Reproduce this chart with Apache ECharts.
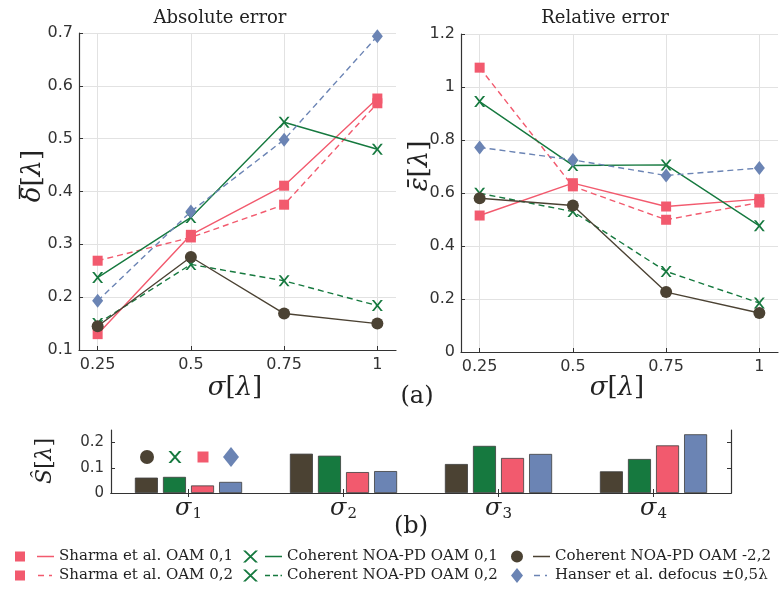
<!DOCTYPE html>
<html><head><meta charset="utf-8">
<script src="https://cdn.jsdelivr.net/npm/echarts@6/dist/echarts.min.js"></script>
<style>html,body{margin:0;padding:0;background:#fff}#c{width:781px;height:591px}</style>
</head><body><div id="c"></div>
<script>
// ---------- data ----------
const sigma = [0.25, 0.5, 0.75, 1];
const xTicks = [0.25, 0.5, 0.75, 1];
const names = ['Sharma et al. OAM 0,1', 'Sharma et al. OAM 0,2', 'Coherent NOA-PD OAM 0,1',
               'Coherent NOA-PD OAM 0,2', 'Coherent NOA-PD OAM -2,2', 'Hanser et al. defocus \u00b10,5\u03bb'];
// Absolute error
const absSharma01 = [0.130, 0.318, 0.411, 0.576];
const absSharma02 = [0.269, 0.313, 0.375, 0.567];
const absCoh01    = [0.237, 0.351, 0.531, 0.480];
const absCoh02    = [0.150, 0.262, 0.231, 0.184];
const absCohM22   = [0.145, 0.276, 0.169, 0.150];
const absHanser   = [0.193, 0.362, 0.498, 0.694];
// Relative error
const relSharma01 = [0.515, 0.637, 0.549, 0.577];
const relSharma02 = [1.073, 0.625, 0.499, 0.564];
const relCoh01    = [0.945, 0.704, 0.706, 0.476];
const relCoh02    = [0.599, 0.530, 0.304, 0.185];
const relCohM22   = [0.580, 0.553, 0.226, 0.147];
const relHanser   = [0.772, 0.725, 0.666, 0.694];
// Bar chart (b)
const barCats = ['1', '2', '3', '4'];
const barNames = ['S -2,2', 'S 0,1', 'S Sharma', 'S Hanser'];
const barCohM22  = [0.061, 0.156, 0.115, 0.086];
const barCoh01   = [0.064, 0.148, 0.187, 0.135];
const barSharma  = [0.030, 0.083, 0.139, 0.189];
const barHanser  = [0.044, 0.087, 0.155, 0.233];
const barYTicks = [0, 0.1, 0.2];

// ---------- styles ----------
const PINK = '#f25a6e', GREEN = '#16793f', BROWN = '#4b4233', BLUE = '#6b84b4';
const XPATH = 'path://M0 0H2.4L12 12H9.6Z M9.6 0H12L2.4 12H0Z';
const SANS = 'DejaVu Sans', SERIF = 'DejaVu Serif';
const AX = '#333';
const lineDefs = [
  {abs: absSharma01, rel: relSharma01, color: PINK,  dash: false, symbol: 'rect', size: 10},
  {abs: absSharma02, rel: relSharma02, color: PINK,  dash: true,  symbol: 'rect', size: 10},
  {abs: absCoh01,    rel: relCoh01,    color: GREEN, dash: false, symbol: XPATH,  size: 11},
  {abs: absCoh02,    rel: relCoh02,    color: GREEN, dash: true,  symbol: XPATH,  size: 11},
  {abs: absCohM22,   rel: relCohM22,   color: BROWN, dash: false, symbol: 'circle', size: 12},
  {abs: absHanser,   rel: relHanser,   color: BLUE,  dash: true,  symbol: 'diamond', size: [11, 14]}
];

const series = [];
lineDefs.forEach((d, i) => {
  [['abs', 0], ['rel', 1]].forEach(([k, gi]) => {
    series.push({
      type: 'line', name: names[i], xAxisIndex: gi, yAxisIndex: gi,
      data: sigma.map((s, j) => [s, d[k][j]]),
      symbol: d.symbol, symbolSize: d.size, showSymbol: true,
      itemStyle: {color: d.color, borderWidth: 0},
      lineStyle: {color: d.color, width: 1.4, type: d.dash ? [6, 4] : 'solid'},
      emphasis: {disabled: true}, z: 2 + i
    });
  });
});
const barDefs = [[barCohM22, BROWN], [barCoh01, GREEN], [barSharma, PINK], [barHanser, BLUE]];
barDefs.forEach(([vals, color], i) => {
  series.push({
    type: 'bar', name: barNames[i], xAxisIndex: 2, yAxisIndex: 2,
    data: vals, barWidth: 23, barGap: '22%',
    itemStyle: {color: color, borderColor: '#3c3c3c', borderWidth: 0.8},
    emphasis: {disabled: true}
  });
});

function valX(gi) {
  return {
    type: 'value', gridIndex: gi, min: 0.2, max: 1.05,
    axisLine: {show: true, lineStyle: {color: AX, width: 1.2}},
    axisTick: {show: true, inside: true, length: 4, customValues: xTicks, lineStyle: {color: AX}},
    axisLabel: {customValues: xTicks, margin: 7, color: AX, fontFamily: SANS, fontSize: 16},
    splitLine: {show: true, lineStyle: {color: '#e2e2e2', width: 1}}
  };
}
function valY(gi, min, max, interval) {
  return {
    type: 'value', gridIndex: gi, min: min, max: max, interval: interval,
    axisLine: {show: true, lineStyle: {color: AX, width: 1.2}},
    axisTick: {show: true, inside: true, length: 4, lineStyle: {color: AX}},
    axisLabel: {margin: 6, color: AX, fontFamily: SANS, fontSize: 16},
    splitLine: {show: true, lineStyle: {color: '#e2e2e2', width: 1}}
  };
}

const subRich = {
  s: {fontFamily: SERIF, fontStyle: 'italic', fontSize: 24, color: '#222'},
  sub: {fontFamily: SERIF, fontSize: 15, color: '#222', padding: [12, 0, 0, 1]}
};

function lgIcon(p) { return 'path://M0 0M39 15' + p; }
const LINE = 'M22 6.8H39V8.2H22Z';
const icons = [
  lgIcon('M0 2.5H10V12.5H0Z' + LINE),
  lgIcon('M0 2.5H10V12.5H0ZM23 6.8H29V8.2H23ZM34 6.8H37V8.2H34Z'),
  lgIcon('M0 1.5H2.6L15 13.5H12.4ZM12.4 1.5H15L2.6 13.5H0Z' + LINE),
  lgIcon('M0 1.5H2.6L15 13.5H12.4ZM12.4 1.5H15L2.6 13.5H0ZM22 6.8H27V8.2H22ZM30 6.8H35V8.2H30ZM37.5 6.8H39V8.2H37.5Z'),
  lgIcon('M0 7.5A6 6 0 1 0 12 7.5A6 6 0 1 0 0 7.5Z' + LINE),
  lgIcon('M6 0L12 7.5L6 15L0 7.5ZM23 6.8H29V8.2H23ZM34 6.8H36V8.2H34Z')
];
const lgColors = [PINK, PINK, GREEN, GREEN, BROWN, BLUE];
function colLegend(left, idxs) {
  return {
    orient: 'vertical', left: left, top: 549, height: 40, padding: 0,
    itemWidth: 39, itemHeight: 15, itemGap: 4,
    symbolKeepAspect: false, selectedMode: false,
    textStyle: {fontFamily: SERIF, fontSize: 15, color: '#222', lineHeight: 15},
    data: idxs.map(i => ({name: names[i], icon: icons[i], itemStyle: {color: lgColors[i], borderWidth: 0}}))
  };
}
function bIcon(p) { return 'path://M0 0M16 20' + p; }
const barIcons = [
  bIcon('M1 10A7 7 0 1 0 15 10A7 7 0 1 0 1 10Z'),
  bIcon('M1.5 4H4.1L14.5 16H11.9ZM11.9 4H14.5L4.1 16H1.5Z'),
  bIcon('M2.5 4.5H13.5V15.5H2.5Z'),
  bIcon('M8 0L16 10L8 20L0 10Z')
];

function mathText(x, y, parts, size, rot) {
  return {
    type: 'text', x: x, y: y, rotation: rot || 0,
    style: {
      text: parts, textAlign: 'center', textVerticalAlign: 'middle',
      rich: {
        i: {fontFamily: SERIF, fontStyle: 'italic', fontSize: size, fill: '#222'},
        n: {fontFamily: SERIF, fontSize: size, fill: '#222'}
      }
    }
  };
}
function plainText(x, y, t, size) {
  return {type: 'text', x: x, y: y, style: {text: t, textAlign: 'center', textVerticalAlign: 'middle',
          fontFamily: SERIF, fontSize: size, fill: '#222'}};
}

const option = {
  animation: false,
  backgroundColor: '#fff',
  grid: [
    {left: 79, top: 33, width: 317, height: 317},
    {left: 461, top: 34, width: 317, height: 318},
    {left: 111, top: 430, width: 620, height: 63}
  ],
  xAxis: [
    valX(0), valX(1),
    {type: 'category', gridIndex: 2, data: barCats,
     axisLine: {show: true, lineStyle: {color: AX, width: 1.2}},
     axisTick: {show: true, inside: true, length: 4, alignWithLabel: true, lineStyle: {color: AX}},
     axisLabel: {margin: 2, formatter: v => '{s|\u03c3}{sub|' + v + '}', rich: subRich},
     splitLine: {show: false}},
    {type: 'category', gridIndex: 2, position: 'top', data: barCats,
     axisLine: {show: true, lineStyle: {color: AX, width: 1.2}},
     axisTick: {show: true, inside: true, length: 4, alignWithLabel: true, lineStyle: {color: AX}},
     axisLabel: {show: false}, splitLine: {show: false}}
  ],
  yAxis: [
    valY(0, 0.1, 0.7, 0.1),
    valY(1, 0, 1.2, 0.2),
    {type: 'value', gridIndex: 2, min: 0, max: 0.25,
     axisLine: {show: true, lineStyle: {color: AX, width: 1.2}},
     axisTick: {show: true, inside: true, length: 4, customValues: barYTicks, lineStyle: {color: AX}},
     axisLabel: {customValues: barYTicks, margin: 7, color: AX, fontFamily: SANS, fontSize: 15},
     splitLine: {show: false}},
    {type: 'value', gridIndex: 2, position: 'right', min: 0, max: 0.25,
     axisLine: {show: true, lineStyle: {color: AX, width: 1.2}},
     axisTick: {show: true, inside: true, length: 4, customValues: barYTicks, lineStyle: {color: AX}},
     axisLabel: {show: false}, splitLine: {show: false}}
  ],
  legend: [
    colLegend(15, [0, 1]),
    colLegend(243, [2, 3]),
    colLegend(511, [4, 5]),
    {orient: 'horizontal', left: 139, top: 447, padding: 0, itemWidth: 16, itemHeight: 20, itemGap: 12,
     symbolKeepAspect: false, selectedMode: false, formatter: () => '',
     data: barNames.map((n, i) => ({name: n, icon: barIcons[i], itemStyle: {color: barDefs[i][1], borderWidth: 0}}))}
  ],
  graphic: [
    plainText(220, 18, 'Absolute error', 18),
    plainText(605, 18, 'Relative error', 18),
    mathText(33, 176, '{i|\u03b4}{n|[}{i|\u03bb}{n|]}', 26, Math.PI / 2),
    {type: 'line', shape: {x1: 19.5, y1: 185, x2: 19.5, y2: 199}, style: {stroke: '#222', lineWidth: 1.4}},
    mathText(420, 166, '{i|\u03b5\u0304}{n|[}{i|\u03bb}{n|]}', 26, Math.PI / 2),
    mathText(235, 388, '{i|\u03c3}{n|[}{i|\u03bb}{n|]}', 26),
    mathText(617, 388, '{i|\u03c3}{n|[}{i|\u03bb}{n|]}', 26),
    plainText(417, 397, '(a)', 24),
    plainText(411, 527, '(b)', 24),
    mathText(45, 461, '{i|S\u0302}{n|[}{i|\u03bb}{n|]}', 22, Math.PI / 2)
  ],
  series: series
};
const chart = echarts.init(document.getElementById('c'), null, {renderer: 'canvas'});
chart.setOption(option);
</script>
</body></html>
